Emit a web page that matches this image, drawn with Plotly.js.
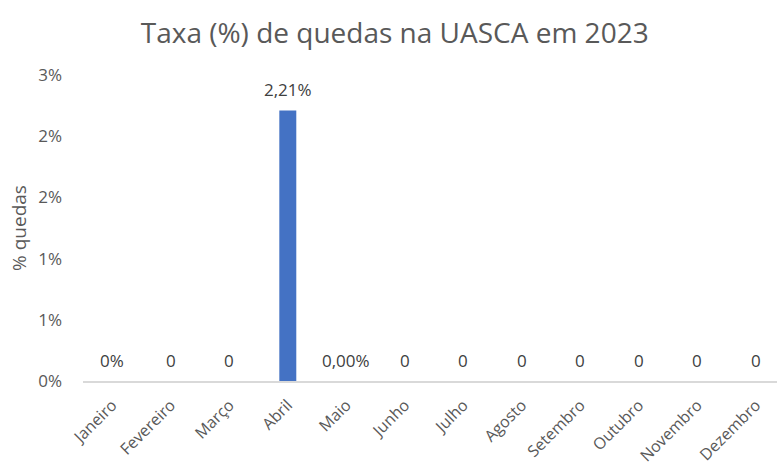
<!DOCTYPE html>
<html><head><meta charset="utf-8">
<script src="https://cdn.plot.ly/plotly-3.0.1.min.js"></script>
<style>html,body{margin:0;padding:0;background:#fff}#c{width:777px;height:468px}</style>
</head><body><div id="c"></div>
<script>
var months = ["Janeiro","Fevereiro","Março","Abril","Maio","Junho","Julho","Agosto","Setembro","Outubro","Novembro","Dezembro"];
var rates = [0,0,0,2.21,0,0,0,0,0,0,0,0];
var labels = ["0%","0","0","2,21%","0,00%","0","0","0","0","0","0","0"];
var yTickVals = [0,0.5,1,1.5,2,2.5];
var yTickText = ["0%","1%","1%","2%","2%","3%"];

var font = "Open Sans, Noto Sans, sans-serif";
var grey = "#595959";

var annotations = months.map(function(m,i){
  return {x:m, y:rates[i], text:labels[i], showarrow:false, yshift:21,
          font:{family:font,size:17,color:"#404040"}};
});

Plotly.newPlot("c",[{
  type:"bar", x:months, y:rates, width:0.29,
  marker:{color:"#4472C4"}, hoverinfo:"none"
}],{
  width:777, height:468,
  margin:{l:83,r:0,t:75,b:87},
  paper_bgcolor:"#fff", plot_bgcolor:"#fff",
  showlegend:false,
  title:{text:"Taxa (%) de quedas na UASCA em 2023", x:0.508, xanchor:"center", y:0.93, yanchor:"middle",
         font:{family:font,size:28,color:grey}},
  xaxis:{type:"category", range:[-0.5,11.36], tickangle:-45, showgrid:false,
         showline:true, linecolor:"#d9d9d9", linewidth:1.5, ticks:"", ticklabelstandoff:7,
         tickfont:{family:font,size:16,color:grey}, automargin:false},
  yaxis:{range:[0,2.5], tickvals:yTickVals, ticktext:yTickText, showgrid:false, zeroline:false,
         showline:false, ticks:"", ticklabelstandoff:20,
         tickfont:{family:font,size:17,color:grey},
         title:{text:"% quedas", font:{family:font,size:19,color:grey}, standoff:6}, automargin:false},
  annotations:annotations
},{staticPlot:true});
</script></body></html>
